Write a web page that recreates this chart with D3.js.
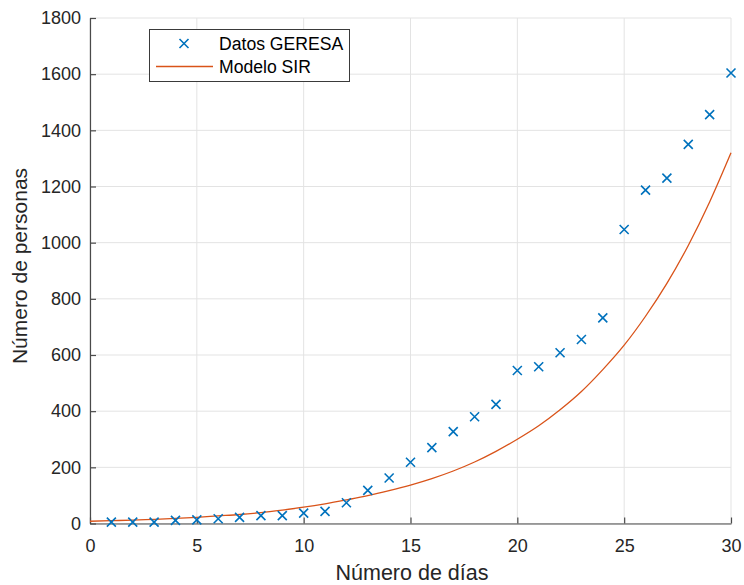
<!DOCTYPE html>
<html><head><meta charset="utf-8">
<script src="https://cdn.jsdelivr.net/npm/d3@7"></script>
<style>body{margin:0;background:#fff}svg{display:block}text{font-family:"Liberation Sans",Arial,sans-serif}</style>
</head><body>
<svg id="c" width="744" height="585"></svg>
<script>
const days = [1,2,3,4,5,6,7,8,9,10,11,12,13,14,15,16,17,18,19,20,21,22,23,24,25,26,27,28,29,30];
const geresa = [5,5,5,11,13,17,22,28,28,37,43,74,118,162,218,270,327,380,424,545,558,608,655,732,1047,1187,1230,1350,1456,1604];
const modelDays = [0,1,2,3,4,5,6,7,8,9,10,11,12,13,14,15,16,17,18,19,20,21,22,23,24,25,26,27,28,29,30];
const sir = [8,10,12,15,18,22,27,32,39,48,58,70,84,99,117,137,160,187,219,257,300,348,405,470,548,635,738,855,990,1145,1320];
const xTicks = [0,5,10,15,20,25,30];
const yTicks = [0,200,400,600,800,1000,1200,1400,1600,1800];
const labels = {x:"Número de días", y:"Número de personas", s1:"Datos GERESA", s2:"Modelo SIR"};

const svg = d3.select("#c");
const L=90, R=731, T=18, B=523.5;
const x = d3.scaleLinear().domain([0,30]).range([L,R]);
const y = d3.scaleLinear().domain([0,1800]).range([B,T]);
const blue="#0072BD", orange="#D95319", axc="#4a4a4a";

// grid
svg.append("g").selectAll("line").data(xTicks).join("line")
  .attr("x1",d=>x(d)).attr("x2",d=>x(d)).attr("y1",T).attr("y2",B)
  .attr("stroke","#e3e3e3").attr("stroke-width",1);
svg.append("g").selectAll("line").data(yTicks).join("line")
  .attr("x1",L).attr("x2",R).attr("y1",d=>y(d)).attr("y2",d=>y(d))
  .attr("stroke","#e3e3e3").attr("stroke-width",1);

// axes
const fmt = d3.format("d");
const xa = svg.append("g").attr("transform",`translate(0,${B})`)
  .call(d3.axisBottom(x).tickValues(xTicks).tickFormat(fmt).tickSizeInner(-6).tickSizeOuter(0).tickPadding(16));
const ya = svg.append("g").attr("transform",`translate(${L},0)`)
  .call(d3.axisLeft(y).tickValues(yTicks).tickFormat(fmt).tickSizeInner(-6).tickSizeOuter(0).tickPadding(9));
[xa,ya].forEach(a=>{
  a.select(".domain").attr("stroke",axc).attr("stroke-width",1.2);
  a.selectAll(".tick line").attr("stroke",axc).attr("stroke-width",1.2);
  a.selectAll(".tick text").attr("fill","#262626").style("font-size","18px").style("font-family","'Liberation Sans',Arial,sans-serif");
});

// model line
svg.append("path").datum(modelDays.map((d,i)=>[d,sir[i]]))
  .attr("d",d3.line().x(d=>x(d[0])).y(d=>y(d[1])).curve(d3.curveMonotoneX))
  .attr("fill","none").attr("stroke",orange).attr("stroke-width",1.3);

// markers
const s=4.5;
svg.append("g").selectAll("path").data(days.map((d,i)=>[d,geresa[i]])).join("path")
  .attr("d",d=>{const cx=x(d[0]),cy=y(d[1]);return `M${cx-s},${cy-s}L${cx+s},${cy+s}M${cx-s},${cy+s}L${cx+s},${cy-s}`;})
  .attr("stroke",blue).attr("stroke-width",1.6).attr("fill","none");

// axis labels
svg.append("text").attr("x",412).attr("y",580).attr("text-anchor","middle")
  .style("font-size","21.5px").attr("fill","#262626").text(labels.x);
svg.append("text").attr("transform",`translate(27,266) rotate(-90)`).attr("text-anchor","middle")
  .style("font-size","21px").attr("fill","#262626").text(labels.y);

// legend
const lg = svg.append("g");
lg.append("rect").attr("x",149.5).attr("y",29.5).attr("width",200).attr("height",52)
  .attr("fill","#fff").attr("stroke","#3a3a3a").attr("stroke-width",1);
const mx=184, my=43.5;
lg.append("path").attr("d",`M${mx-s},${my-s}L${mx+s},${my+s}M${mx-s},${my+s}L${mx+s},${my-s}`)
  .attr("stroke",blue).attr("stroke-width",1.6);
lg.append("line").attr("x1",156).attr("x2",213).attr("y1",66.5).attr("y2",66.5)
  .attr("stroke",orange).attr("stroke-width",1.3);
lg.append("text").attr("x",219).attr("y",50).style("font-size","17.6px").attr("fill","#000").text(labels.s1);
lg.append("text").attr("x",219).attr("y",73).style("font-size","17.6px").attr("fill","#000").text(labels.s2);
</script>
</body></html>
